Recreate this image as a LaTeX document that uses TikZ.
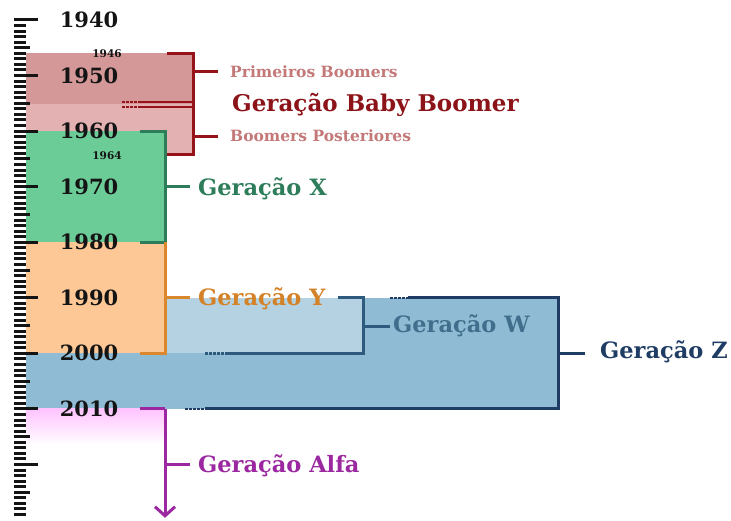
\documentclass[tikz,border=0pt]{standalone}
\usepackage{fontspec}
\setmainfont{DejaVu Serif}
\usetikzlibrary{arrows.meta}
\definecolor{boomA}{RGB}{213,152,153}
\definecolor{boomB}{RGB}{228,177,178}
\definecolor{boomDark}{RGB}{150,20,25}
\definecolor{boomLabel}{RGB}{196,120,120}
\definecolor{boomTitle}{RGB}{140,20,25}
\definecolor{greenFill}{RGB}{108,204,152}
\definecolor{greenDark}{RGB}{45,125,90}
\definecolor{orangeFill}{RGB}{253,200,150}
\definecolor{orangeDark}{RGB}{218,135,45}
\definecolor{orangeText}{RGB}{212,130,40}
\definecolor{wFill}{RGB}{180,210,225}
\definecolor{wDark}{RGB}{45,90,125}
\definecolor{wText}{RGB}{65,110,140}
\definecolor{zFill}{RGB}{143,188,212}
\definecolor{zDark}{RGB}{30,60,100}
\definecolor{alfa}{RGB}{155,40,160}
\definecolor{alfaPink}{RGB}{255,195,255}
\definecolor{yearInk}{RGB}{20,20,20}
\tikzset{
  bracket/.style={line width=3pt},
  dotseg/.style={line width=2.5pt,dash pattern=on 2.5pt off 1.5pt},
  yearlbl/.style={anchor=center,inner sep=0pt,text=yearInk,font=\fontsize{21}{21}\selectfont\bfseries},
  smallyear/.style={anchor=center,inner sep=0pt,text=yearInk,font=\fontsize{10.5}{10.5}\selectfont\bfseries},
  genlbl/.style={anchor=base west,inner sep=0pt,font=\fontsize{22.5}{22.5}\selectfont\bfseries},
  sublbl/.style={anchor=base west,inner sep=0pt,text=boomLabel,font=\fontsize{15.5}{15.5}\selectfont\bfseries},
  tick/.style={line width=3pt,yearInk}
}
\begin{document}
\begin{tikzpicture}[x=1pt,y=-5.5556pt]
\useasboundingbox (0,-3.6) rectangle (731,90);
\fill[white] (0,-3.6) rectangle (731,90);
% fills
\fill[boomA] (26,6) rectangle (193,15.2);
\fill[boomB] (26,15.2) rectangle (193,24.25);
\fill[greenFill] (26,20) rectangle (165,40);
\fill[zFill] (26,50) rectangle (558,70);
\fill[orangeFill] (26,40) rectangle (165,60);
\fill[wFill] (165,50) rectangle (363,60);
\shade[top color=alfaPink,bottom color=white] (26,70) rectangle (165,76.5);
% coordinates
\coordinate (bbT) at (167,6);
\coordinate (bbTR) at (193,6);
\coordinate (bbBR) at (193,24.25);
\coordinate (bbB) at (167,24.25);
% boomer bracket
\draw[bracket,boomDark] (bbT) -- (bbTR) -- (bbBR) -- (bbB);
\draw[bracket,boomDark] (193,9.36) -- (218,9.36);
\draw[bracket,boomDark] (193,20.9) -- (218,20.9);
\draw[line width=2.2pt,boomDark] (141,14.7) -- (193,14.7);
\draw[line width=2.2pt,boomDark] (141,15.7) -- (193,15.7);
\draw[dotseg,line width=2.2pt,boomDark] (122,14.7) -- (141,14.7);
\draw[dotseg,line width=2.2pt,boomDark] (122,15.7) -- (141,15.7);
% green bracket
\draw[bracket,greenDark] (140,20) -- (165,20) -- (165,40) -- (140,40);
\draw[bracket,greenDark] (165,30) -- (190,30);
% orange bracket
\draw[bracket,orangeDark] (165,40) -- (165,60) -- (140,60);
\draw[bracket,orangeDark] (165,50) -- (190,50);
% W bracket
\draw[bracket,wDark] (338,50) -- (363,50) -- (363,60) -- (225,60);
\draw[dotseg,wDark] (205,60) -- (225,60);
\draw[bracket,wDark] (363,55.08) -- (390,55.08);
% Z bracket
\draw[bracket,zDark] (408,50) -- (558,50) -- (558,70) -- (205,70);
\draw[dotseg,zDark] (390,50) -- (408,50);
\draw[dotseg,zDark] (185,70) -- (205,70);
\draw[bracket,zDark] (558,60) -- (585,60);
% Alfa bracket
\coordinate (alfaEnd) at (165,89.6);
\draw[bracket,alfa] (140,70) -- (165,70);
\draw[bracket,alfa,-{Straight Barb[length=9pt,width=20pt,line width=3pt]}] (165,70) -- (alfaEnd);
\draw[bracket,alfa] (165,80) -- (190,80);
% ruler
\foreach \yr in {0,...,89}{
  \pgfmathtruncatemacro{\m}{mod(\yr,10)}
  \pgfmathtruncatemacro{\h}{mod(\yr,5)}
  \ifnum\m=0
    \draw[tick] (14,\yr) -- (38,\yr);
  \else\ifnum\h=0
    \draw[tick] (14,\yr) -- (30,\yr);
  \else
    \draw[tick] (14,\yr) -- (26,\yr);
  \fi\fi
}
% year labels
\node[yearlbl] (y1940) at (89,0) {1940};
\node[yearlbl] (y1950) at (89,10) {1950};
\node[yearlbl] (y1960) at (89,20) {1960};
\node[yearlbl] (y1970) at (89,30) {1970};
\node[yearlbl] (y1980) at (89,40) {1980};
\node[yearlbl] (y1990) at (89,50) {1990};
\node[yearlbl] (y2000) at (89,60) {2000};
\node[yearlbl] (y2010) at (89,70) {2010};
\node[smallyear] (y1946) at (107,6.05) {1946};
\node[smallyear] (y1964) at (107,24.4) {1964};
% generation labels
\node[sublbl] (prim) at (230,10.3) {Primeiros Boomers};
\node[sublbl] (post) at (230,21.8) {Boomers Posteriores};
\node[genlbl,text=boomTitle,font=\fontsize{23}{23}\selectfont\bfseries] (bb) at (232,16.4) {Geração Baby Boomer};
\node[genlbl,text=greenDark] (gx) at (198,31.5) {Geração X};
\node[genlbl,text=orangeText] (gy) at (198,51.3) {Geração Y};
\node[genlbl,text=wText] (gw) at (393,56.3) {Geração W};
\node[genlbl,text=zDark] (gz) at (600,61.0) {Geração Z};
\node[genlbl,text=alfa] (ga) at (198,81.4) {Geração Alfa};
\end{tikzpicture}
\end{document}
